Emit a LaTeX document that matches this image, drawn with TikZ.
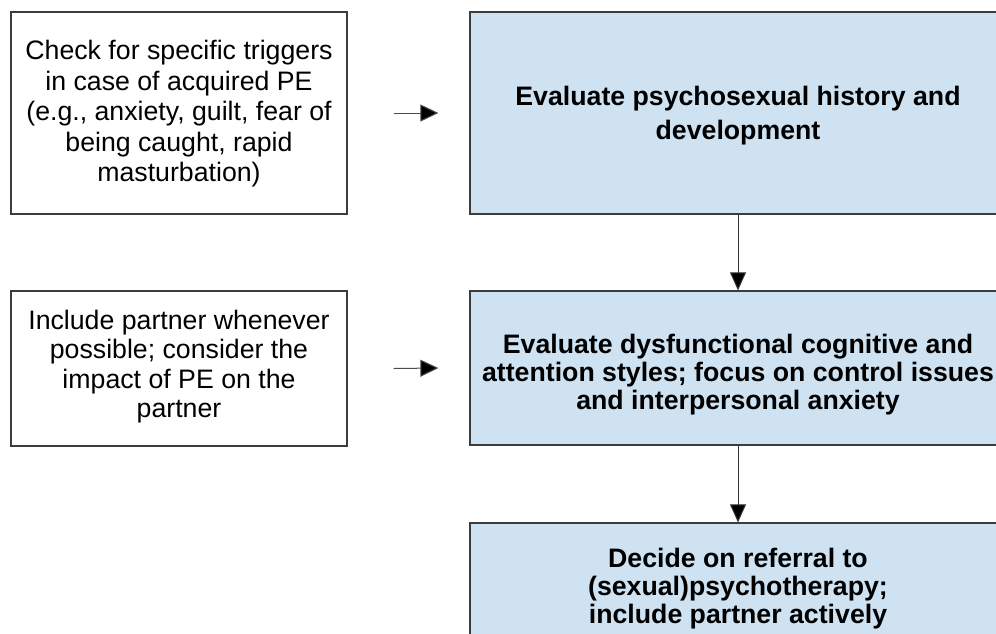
\documentclass[tikz,border=0pt]{standalone}
\usepackage{fontspec}
\setmainfont{Liberation Sans}
\usetikzlibrary{arrows.meta}
\definecolor{boxblue}{RGB}{207,226,242}
\definecolor{edge}{RGB}{60,60,60}
\tikzset{
  plainbox/.style={draw=edge, line width=1.1pt, fill=white, inner sep=0pt},
  bluebox/.style={draw=edge, line width=1.3pt, fill=boxblue, inner sep=0pt},
  plaintext/.style={inner sep=0pt, align=center},
  hconn/.style={draw=black!70, line width=1pt, -{Triangle[length=18pt,width=17pt,fill=black]}},
  vconn/.style={draw=black!80, line width=1pt, -{Triangle[length=18pt,width=16pt,fill=black]}}
}
\begin{document}
\begin{tikzpicture}[x=1pt,y=-1pt]
\useasboundingbox (0,0) rectangle (996,633);
\clip (0,0) rectangle (996,633);
\fill[white] (0,0) rectangle (996,633);
% left boxes
\node[plainbox, minimum width=336pt, minimum height=202pt] (l1) at (179,113) {};
\node[plaintext, font=\fontsize{26.7}{30.5}\selectfont] (l1t) at ([yshift=-1pt]l1.center)
  {Check for specific triggers\\in case of acquired PE\\(e.g., anxiety, guilt, fear of\\being caught, rapid\\masturbation)};
\node[plainbox, minimum width=336pt, minimum height=155pt] (l2) at (179,368.5) {};
\node[plaintext, font=\fontsize{26.7}{29.5}\selectfont] (l2t) at ([yshift=2pt]l2.center)
  {Include partner whenever\\possible; consider the\\impact of PE on the\\partner};
% right boxes
\node[bluebox, minimum width=536pt, minimum height=202pt] (r1) at (738,113) {};
\node[plaintext, font=\bfseries\fontsize{26.7}{34}\selectfont] (r1t) at ([yshift=-3pt]r1.center)
  {Evaluate psychosexual history and\\development};
\node[bluebox, minimum width=536pt, minimum height=154pt] (r2) at (738,368) {};
\node[plaintext, font=\bfseries\fontsize{26.7}{28}\selectfont] (r2t) at ([yshift=-7pt]r2.center)
  {Evaluate dysfunctional cognitive and\\attention styles; focus on control issues\\and interpersonal anxiety};
\node[bluebox, minimum width=536pt, minimum height=126pt] (r3) at (738,586) {};
\node[plaintext, font=\bfseries\fontsize{26.7}{28}\selectfont] (r3t) at ([yshift=-3pt]r3.center)
  {Decide on referral to\\(sexual)psychotherapy;\\include partner actively};
% connectors
\draw[hconn] ([xshift=46pt]l1.east) -- ([xshift=-31pt]r1.west);
\draw[hconn] ([xshift=46pt]l2.east) -- ([xshift=-31pt]r2.west);
\draw[vconn] (r1.south) -- (r2.north);
\draw[vconn] (r2.south) -- (r3.north);
\end{tikzpicture}
\end{document}
